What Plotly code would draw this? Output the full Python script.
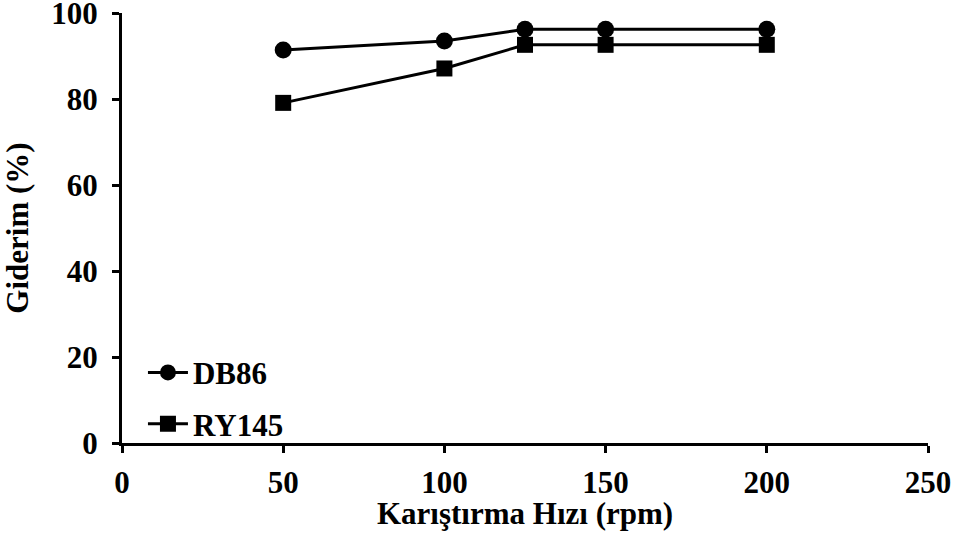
import plotly.graph_objects as go

rpm = [50, 100, 125, 150, 200]
db86 = [91.4, 93.5, 96.2, 96.2, 96.2]
ry145 = [79.1, 87.1, 92.6, 92.6, 92.6]

font_name = "Liberation Serif"
fnt = dict(family=font_name, size=31, color="black", weight="bold")

fig = go.Figure()

fig.add_trace(go.Scatter(
    x=rpm, y=db86, mode="lines+markers", name="DB86", legendgroup="a",
    line=dict(color="black", width=3),
    marker=dict(symbol="circle", size=17, color="black"),
))
fig.add_trace(go.Scatter(
    x=rpm, y=ry145, mode="lines+markers", name="RY145", legendgroup="b",
    line=dict(color="black", width=3),
    marker=dict(symbol="square", size=16, color="black"),
))

fig.update_layout(
    width=953, height=539,
    margin=dict(l=122, r=25, t=13, b=96),
    paper_bgcolor="white", plot_bgcolor="white",
    font=fnt,
    showlegend=True,
    legend=dict(
        x=0.026, y=-0.018, xanchor="left", yanchor="bottom",
        bgcolor="rgba(0,0,0,0)",
        font=fnt, traceorder="grouped",
        itemwidth=40, tracegroupgap=8,
    ),
    xaxis=dict(
        range=[0, 250], tickvals=[0, 50, 100, 150, 200, 250],
        showline=True, linecolor="black", linewidth=3,
        ticks="outside", ticklen=7, tickwidth=3, tickcolor="black",
        showgrid=False, zeroline=False, automargin=False,
        tickfont=fnt, ticklabelstandoff=3, ticklabeloverflow="allow",
    ),
    yaxis=dict(
        range=[0, 100], tickvals=[0, 20, 40, 60, 80, 100],
        showline=True, linecolor="black", linewidth=3,
        ticks="outside", ticklen=7, tickwidth=3, tickcolor="black",
        showgrid=False, zeroline=False, automargin=False,
        tickfont=fnt, ticklabelstandoff=8, ticklabeloverflow="allow",
        title=dict(text="Giderim (%)", font=fnt, standoff=25),
    ),
)

# x axis title as an annotation so it can sit closer to the tick labels
fig.add_annotation(
    text="Karıştırma Hızı (rpm)", font=fnt, showarrow=False,
    xref="paper", yref="paper", x=0.5, y=-0.163,
    xanchor="center", yanchor="middle",
)

# page body has a default 8px margin; drop it so the figure fills the window
fig.write_html(
    "out.html",
    config={"displayModeBar": False},
    post_script="document.body.style.margin='0';",
)
